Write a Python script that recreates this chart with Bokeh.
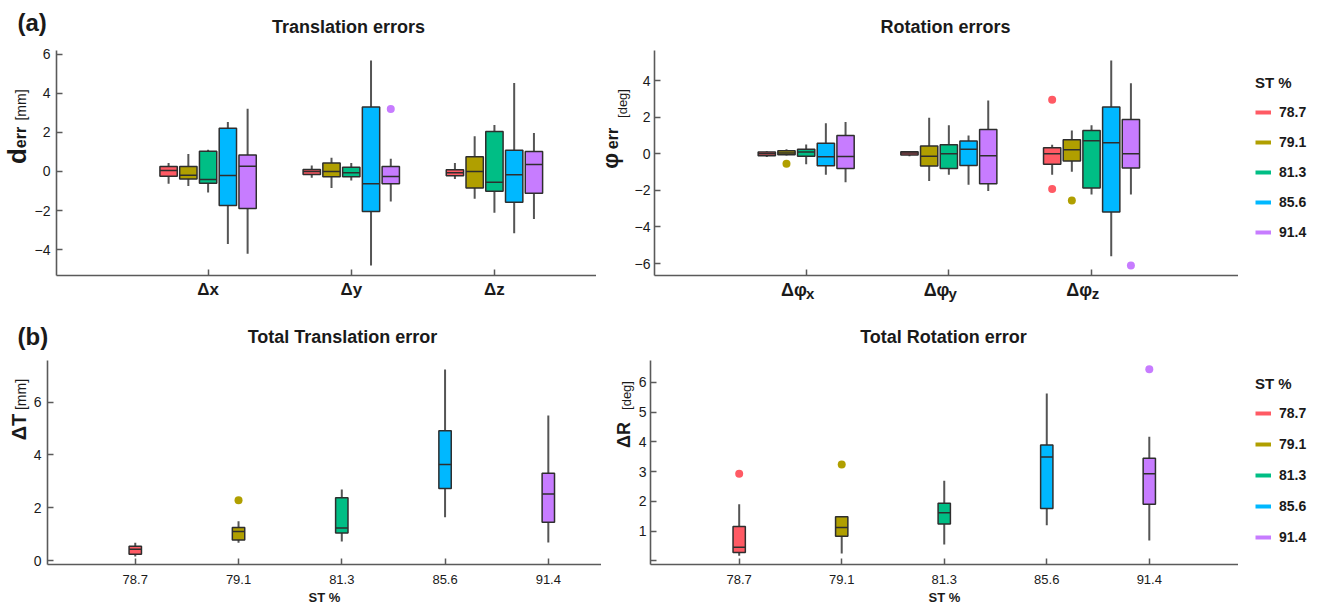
import numpy as np
from bokeh.plotting import figure
from bokeh.layouts import column, row
from bokeh.models import (Label, Legend, LegendItem, Range1d, FixedTicker,
                          ColumnDataSource, LinearAxis)
from bokeh.embed import file_html
from bokeh.resources import INLINE

# ---------------- data ----------------
ST = ["78.7", "79.1", "81.3", "85.6", "91.4"]
COLORS = ["#FF5A64", "#B09F00", "#00BE85", "#00B8FF", "#C77CFF"]

TRANS_CATS = ["Δx", "Δy", "Δz"]
trans_hi  = [[0.43, 0.90, 1.11, 2.53, 3.21], [0.31, 0.70, 0.43, 5.69, 0.65], [0.43, 1.81, 2.38, 4.53, 1.97]]
trans_q3  = [[0.26, 0.26, 1.04, 2.22, 0.84], [0.10, 0.43, 0.22, 3.30, 0.26], [0.09, 0.75, 2.05, 1.09, 1.03]]
trans_med = [[0.05, -0.19, -0.41, -0.21, 0.27], [0.00, 0.00, -0.07, -0.63, -0.26], [-0.07, 0.00, -0.55, -0.17, 0.36]]
trans_q1  = [[-0.24, -0.38, -0.60, -1.74, -1.90], [-0.15, -0.27, -0.27, -2.05, -0.63], [-0.22, -0.85, -1.01, -1.57, -1.11]]
trans_lo  = [[-0.63, -0.75, -1.08, -3.71, -4.22], [-0.32, -0.85, -0.46, -4.82, -1.54], [-0.38, -1.40, -2.12, -3.16, -2.44]]
trans_out_cat = [1]
trans_out_st = [4]
trans_out_val = [3.20]

ROT_SUBS = ["x", "y", "z"]
rot_hi  = [[0.13, 0.25, 0.51, 1.67, 1.73], [0.15, 1.96, 1.56, 1.00, 2.91], [0.49, 1.27, 1.56, 5.09, 3.85]]
rot_q3  = [[0.09, 0.16, 0.24, 0.58, 1.00], [0.11, 0.42, 0.49, 0.69, 1.33], [0.33, 0.76, 1.27, 2.55, 1.87]]
rot_med = [[0.00, 0.04, 0.09, -0.16, -0.15], [0.04, -0.13, 0.00, 0.24, -0.11], [0.00, 0.22, 0.71, 0.60, 0.00]]
rot_q1  = [[-0.11, -0.05, -0.13, -0.65, -0.80], [-0.07, -0.67, -0.80, -0.64, -1.64], [-0.58, -0.40, -1.87, -3.18, -0.78]]
rot_lo  = [[-0.18, -0.09, -0.58, -1.15, -1.55], [-0.13, -1.49, -1.15, -1.69, -2.04], [-1.15, -0.98, -2.22, -5.60, -2.22]]
rot_out_cat = [0, 2, 2, 2, 2]
rot_out_st = [1, 0, 0, 1, 4]
rot_out_val = [-0.55, 2.95, -1.93, -2.55, -6.11]

tt_hi  = [0.67, 1.49, 2.69, 7.24, 5.50]
tt_q3  = [0.54, 1.25, 2.38, 4.92, 3.31]
tt_med = [0.43, 1.10, 1.23, 3.64, 2.52]
tt_q1  = [0.24, 0.78, 1.04, 2.73, 1.45]
tt_lo  = [0.15, 0.67, 0.72, 1.64, 0.68]
tt_out_st = [1]
tt_out_val = [2.28]

tr_hi  = [1.90, 1.51, 2.69, 5.62, 4.17]
tr_q3  = [1.16, 1.48, 1.94, 3.89, 3.45]
tr_med = [0.46, 1.12, 1.62, 3.49, 2.93]
tr_q1  = [0.28, 0.83, 1.24, 1.76, 1.90]
tr_lo  = [0.17, 0.25, 0.55, 1.20, 0.69]
tr_out_st = [0, 1, 4]
tr_out_val = [2.93, 3.24, 6.44]

# ---------------- style ----------------
FONT = "Liberation Sans"
AXIS_C = "#5a5a5a"
WHISK_C = "#555555"
EDGE_C = "#2e2e2e"
TXT_C = "#1a1a1a"


def make_fig(w, h, xr, yr, mbl, mbt, mbb, mbr):
    p = figure(width=w, height=h, x_range=Range1d(*xr), y_range=Range1d(*yr),
               toolbar_location=None, output_backend="svg",
               min_border_left=mbl, min_border_top=mbt,
               min_border_bottom=mbb, min_border_right=mbr)
    p.outline_line_color = None
    p.grid.visible = False
    for ax in (p.xaxis[0], p.yaxis[0]):
        ax.axis_line_color = AXIS_C
        ax.axis_line_width = 1.6
        ax.major_tick_line_color = AXIS_C
        ax.major_tick_line_width = 1.5
        ax.major_tick_in = 6
        ax.major_tick_out = 0
        ax.minor_tick_line_color = None
        ax.major_label_text_font = FONT
        ax.major_label_text_color = TXT_C
    p.yaxis.major_label_text_font_size = "14px"
    p.yaxis.major_label_standoff = 6
    return p


def blank_fig(w, h):
    p = figure(width=w, height=h, x_range=Range1d(0, 1), y_range=Range1d(0, 1),
               toolbar_location=None, output_backend="svg", min_border=0,
               x_axis_location=None, y_axis_location=None)
    p.outline_line_color = None
    p.xgrid.visible = False
    p.ygrid.visible = False
    p.grid.grid_line_color = None
    return p


def draw_boxes(p, xs, hi, q3, med, q1, lo, colors, width):
    src = ColumnDataSource(dict(
        x=xs, hi=hi, q3=q3, med=med, q1=q1, lo=lo, color=colors,
        left=[x - width / 2 for x in xs], right=[x + width / 2 for x in xs]))
    p.segment(x0="x", y0="lo", x1="x", y1="hi", source=src,
              line_color=WHISK_C, line_width=2)
    p.vbar(x="x", width=width, top="q3", bottom="q1", source=src,
           fill_color="color", line_color=EDGE_C, line_width=1.5)
    p.segment(x0="left", y0="med", x1="right", y1="med", source=src,
              line_color=EDGE_C, line_width=1.5)


def lab(p, x, y, text, size, bold=True, angle=0.0, align="left",
        baseline="alphabetic"):
    p.add_layout(Label(x=x, y=y, x_units="screen", y_units="screen", text=text,
                       text_font=FONT, text_font_size=size,
                       text_font_style="bold" if bold else "normal",
                       text_color=TXT_C, angle=angle, text_align=align,
                       text_baseline=baseline))


def vlab(p, x, y, text, size, bold=True):
    # vertical text, centred on (x, y)
    lab(p, x, y, text, size, bold=bold, angle=np.pi / 2, align="center",
        baseline="middle")


OFF = 0.138
BW = 0.121


def grouped(hi, q3, med, q1, lo):
    xs, H, Q3, M, Q1, L, C = [], [], [], [], [], [], []
    for ci in range(len(hi)):
        for si in range(len(ST)):
            xs.append(ci + 1 + (si - 2) * OFF)
            H.append(hi[ci][si]); Q3.append(q3[ci][si]); M.append(med[ci][si])
            Q1.append(q1[ci][si]); L.append(lo[ci][si]); C.append(COLORS[si])
    return xs, H, Q3, M, Q1, L, C


def legend_fig(h, loc, spacing):
    p = blank_fig(80, h)
    items = []
    for s, c in zip(ST, COLORS):
        r = p.line(x=[np.nan, np.nan], y=[np.nan, np.nan], line_color=c, line_width=4)
        items.append(LegendItem(label=s, renderers=[r]))
    lg = Legend(items=items, location=loc, title="ST %",
                title_text_font=FONT, title_text_font_style="bold",
                title_text_font_size="15px", title_text_color=TXT_C,
                label_text_font=FONT, label_text_font_style="bold",
                label_text_font_size="14px", label_text_color=TXT_C,
                glyph_width=16, glyph_height=20, label_height=20,
                label_standoff=8, spacing=spacing, padding=0, margin=0,
                title_standoff=11, border_line_color=None,
                background_fill_alpha=0)
    p.add_layout(lg)
    return p


# ======================= top block =======================
hdr1 = blank_fig(1318, 45)
lab(hdr1, 17, 23, "(a)", "24px", baseline="middle")
lab(hdr1, 348, 19, "Translation errors", "18px", align="center", baseline="middle")
lab(hdr1, 945, 19, "Rotation errors", "18px", align="center", baseline="middle")

# y label for translation errors
yl_tl = blank_fig(31, 260)
vlab(yl_tl, 16, 119.5, "d", "26px")
vlab(yl_tl, 19.5, 138, "err", "16px")
vlab(yl_tl, 20.5, 170.5, "[mm]", "14px", bold=False)

# translation errors
tl = make_fig(565, 260, (-0.059, 3.713), (-5.33, 6.2), 20, 5, 30, 0)
xs, H, Q3, M, Q1, L, C = grouped(trans_hi, trans_q3, trans_med, trans_q1, trans_lo)
draw_boxes(tl, xs, H, Q3, M, Q1, L, C, BW)
tl.scatter(x=[c + 1 + (s - 2) * OFF for c, s in zip(trans_out_cat, trans_out_st)],
           y=trans_out_val, size=8, fill_color=[COLORS[s] for s in trans_out_st],
           line_color=None)
tl.xaxis.ticker = FixedTicker(ticks=[1, 2, 3])
tl.xaxis.major_label_overrides = {i + 1: c for i, c in enumerate(TRANS_CATS)}
tl.xaxis.major_label_text_font_size = "17px"
tl.xaxis.major_label_text_font_style = "bold"
tl.xaxis.major_label_standoff = 4
tl.yaxis.ticker = FixedTicker(ticks=[-4, -2, 0, 2, 4, 6])

# y label for rotation errors
yl_tr = blank_fig(35, 260)
vlab(yl_tr, 14, 114.5, "φ", "22px")
vlab(yl_tr, 15.5, 137, "err", "16px")
vlab(yl_tr, 26, 172, "[deg]", "13px", bold=False)

# rotation errors
trf = make_fig(607, 260, (-0.063, 4.03), (-6.65, 5.64), 17, 5, 30, 0)
trf.yaxis.major_label_standoff = 4
xs, H, Q3, M, Q1, L, C = grouped(rot_hi, rot_q3, rot_med, rot_q1, rot_lo)
draw_boxes(trf, xs, H, Q3, M, Q1, L, C, BW)
trf.scatter(x=[c + 1 + (s - 2) * OFF for c, s in zip(rot_out_cat, rot_out_st)],
            y=rot_out_val, size=8, fill_color=[COLORS[s] for s in rot_out_st],
            line_color=None)
trf.xaxis.ticker = FixedTicker(ticks=[1, 2, 3])
trf.xaxis.major_label_overrides = {1: "", 2: "", 3: ""}
trf.xaxis.major_label_text_font_size = "1px"
trf.xaxis.major_label_standoff = 0
trf.yaxis.ticker = FixedTicker(ticks=[-6, -4, -2, 0, 2, 4])
PHI_SHIFT = -0.0859375
SUB_SHIFT = 0.02734375
phi_ticks = [i + 1 + PHI_SHIFT for i in range(3)]
sub_ticks = [i + 1 + SUB_SHIFT for i in range(3)]
for ticks, texts, size, standoff in ((phi_ticks, ["Δφ"] * 3, "18px", 4),
                                     (sub_ticks, ROT_SUBS, "15px", -18)):
    ax = LinearAxis(ticker=FixedTicker(ticks=ticks),
                    major_label_overrides={t: s for t, s in zip(ticks, texts)},
                    axis_line_color=None, major_tick_line_color=None,
                    minor_tick_line_color=None, major_tick_in=0, major_tick_out=0,
                    minor_tick_in=0, minor_tick_out=0,
                    major_label_text_font=FONT, major_label_text_font_size=size,
                    major_label_text_font_style="bold", major_label_text_color=TXT_C,
                    major_label_standoff=standoff)
    trf.add_layout(ax, "below")

lg1 = legend_fig(260, (17, 33), 10)

# ======================= bottom block =======================
hdr2 = blank_fig(1318, 50)
lab(hdr2, 17, 19, "(b)", "24px", baseline="middle")
lab(hdr2, 342, 19, "Total Translation error", "18px", align="center", baseline="middle")
lab(hdr2, 943, 19, "Total Rotation error", "18px", align="center", baseline="middle")

yl_bl = blank_fig(30, 254)
vlab(yl_bl, 18, 137.5, "ΔT", "20px")
vlab(yl_bl, 20.5, 170, "[mm]", "14px", bold=False)

pos = [i + 1 for i in range(len(ST))]


def total_fig(w, xr, yr, mbl, hi, q3, med, q1, lo, out_st, out_val, yticks):
    p = make_fig(w, 254, xr, yr, mbl, 5, 45, 0)
    draw_boxes(p, pos, hi, q3, med, q1, lo, COLORS, 0.12)
    p.scatter(x=[s + 1 for s in out_st], y=out_val, size=8,
              fill_color=[COLORS[s] for s in out_st], line_color=None)
    p.xaxis.ticker = FixedTicker(ticks=pos)
    p.xaxis.major_label_overrides = {i + 1: s for i, s in enumerate(ST)}
    p.xaxis.major_label_text_font_size = "13px"
    p.xaxis.major_label_standoff = 10
    p.xaxis.axis_label = "ST %"
    p.xaxis.axis_label_text_font = FONT
    p.xaxis.axis_label_text_font_size = "13px"
    p.xaxis.axis_label_text_font_style = "bold"
    p.xaxis.axis_label_text_color = TXT_C
    p.xaxis.axis_label_standoff = 3
    p.yaxis.ticker = FixedTicker(ticks=yticks)
    return p


bl = total_fig(571, (0.15, 5.515), (-0.15, 7.58), 17, tt_hi, tt_q3, tt_med, tt_q1,
               tt_lo, tt_out_st, tt_out_val, [0, 2, 4, 6])

yl_br = blank_fig(34, 254)
vlab(yl_br, 22.8, 129.5, "ΔR", "18px")
vlab(yl_br, 24.5, 169, "[deg]", "13px", bold=False)

br = total_fig(603, (0.135, 5.87), (-0.12, 6.73), 13, tr_hi, tr_q3, tr_med, tr_q1,
               tr_lo, tr_out_st, tr_out_val, [0, 1, 2, 3, 4, 5, 6])
br.yaxis.major_label_overrides = {0: ""}
br.yaxis.major_label_standoff = 4

lg2 = legend_fig(254, (17, 17), 11)

layout = column(hdr1, row(yl_tl, tl, yl_tr, trf, lg1),
                hdr2, row(yl_bl, bl, yl_br, br, lg2))
open("out.html", "w").write(file_html(layout, INLINE))
